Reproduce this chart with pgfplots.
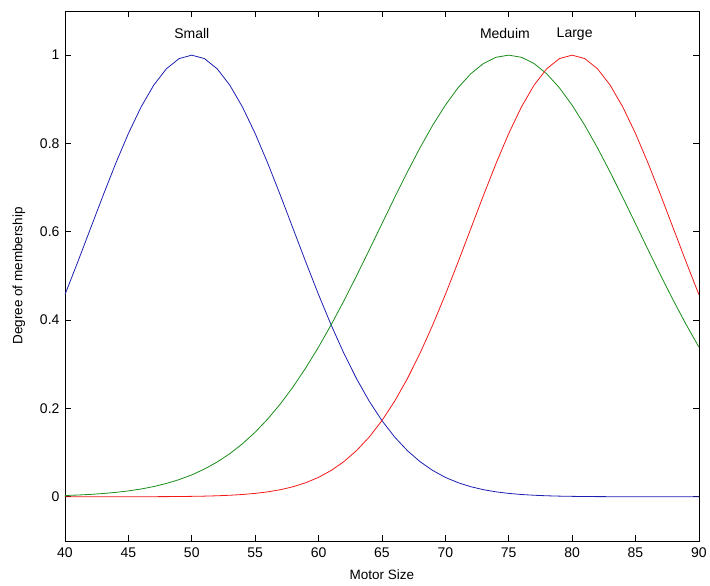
\documentclass[border=0pt]{standalone}
\usepackage{fontspec}
\setmainfont{Liberation Sans}
\usepackage{pgfplots}
\pgfplotsset{compat=1.18}
\definecolor{mblue}{rgb}{0.12,0.12,0.7}
\definecolor{mgreen}{rgb}{0.1,0.55,0.1}
\definecolor{mred}{rgb}{0.95,0.1,0.1}
\begin{document}
\begin{tikzpicture}
\begin{axis}[
  scale only axis,
  width=634pt, height=530pt,
  xmin=40, xmax=90, ymin=-0.1, ymax=1.1,
  xtick={40,45,...,90},
  ytick={0,0.2,0.4,0.6,0.8,1},
  yticklabels={0,0.2,0.4,0.6,0.8,1},
  xticklabels={40,45,50,55,60,65,70,75,80,85,90},
  tick align=inside,
  major tick length=6pt,
  axis line style={black, line width=0.7pt},
  every tick/.style={black, line width=0.7pt},
  tick label style={font=\fontsize{14}{16}\selectfont},
  label style={font=\fontsize{13.5}{16}\selectfont},
  xlabel={Motor Size},
  ylabel={Degree of membership},
  xlabel style={yshift=-5pt},
  ylabel style={yshift=8pt},
  xticklabel style={yshift=-3pt},
  yticklabel style={xshift=-2pt},
  clip=true,
]
\addplot[mblue, line width=0.8pt] coordinates {
(40,0.4578)(41,0.5311)(42,0.6065)(43,0.6819)(44,0.7548)(45,0.8226)(46,0.8825)(47,0.9321)(48,0.9692)(49,0.9922)
(50,1)(51,0.9922)(52,0.9692)(53,0.9321)(54,0.8825)(55,0.8226)(56,0.7548)(57,0.6819)(58,0.6065)(59,0.5311)
(60,0.4578)(61,0.3886)(62,0.3247)(63,0.2671)(64,0.2163)(65,0.1724)(66,0.1353)(67,0.1046)(68,0.0796)(69,0.0596)
(70,0.0439)(71,0.0319)(72,0.0228)(73,0.0160)(74,0.0111)(75,0.0076)(76,0.0051)(77,0.0034)(78,0.0022)(79,0.0014)
(80,0.0009)(81,0.0005)(82,0.0003)(83,0.0002)(84,0.0001)(85,0)(86,0)(87,0)(88,0)(89,0)(90,0)
};
\addplot[mgreen, line width=0.8pt] coordinates {
(40,0.0028)(41,0.0039)(42,0.0053)(43,0.0073)(44,0.0099)(45,0.0132)(46,0.0175)(47,0.0231)(48,0.0301)(49,0.0388)
(50,0.0495)(51,0.0627)(52,0.0786)(53,0.0976)(54,0.1200)(55,0.1461)(56,0.1763)(57,0.2106)(58,0.2493)(59,0.2921)
(60,0.3390)(61,0.3897)(62,0.4437)(63,0.5004)(64,0.5589)(65,0.6183)(66,0.6775)(67,0.7351)(68,0.7901)(69,0.8411)
(70,0.8867)(71,0.9260)(72,0.9577)(73,0.9810)(74,0.9952)(75,1)(76,0.9952)(77,0.9810)(78,0.9577)(79,0.9260)
(80,0.8867)(81,0.8411)(82,0.7901)(83,0.7351)(84,0.6775)(85,0.6183)(86,0.5589)(87,0.5004)(88,0.4437)(89,0.3897)
(90,0.3390)
};
\addplot[mred, line width=0.8pt] coordinates {
(40,0)(41,0)(42,0)(43,0)(44,0)(45,0.0001)(46,0.0001)(47,0.0002)(48,0.0003)(49,0.0005)
(50,0.0009)(51,0.0014)(52,0.0022)(53,0.0034)(54,0.0051)(55,0.0076)(56,0.0111)(57,0.0160)(58,0.0228)(59,0.0319)
(60,0.0439)(61,0.0596)(62,0.0796)(63,0.1046)(64,0.1353)(65,0.1724)(66,0.2163)(67,0.2671)(68,0.3247)(69,0.3886)
(70,0.4578)(71,0.5311)(72,0.6065)(73,0.6819)(74,0.7548)(75,0.8226)(76,0.8825)(77,0.9321)(78,0.9692)(79,0.9922)
(80,1)(81,0.9922)(82,0.9692)(83,0.9321)(84,0.8825)(85,0.8226)(86,0.7548)(87,0.6819)(88,0.6065)(89,0.5311)
(90,0.4578)
};
\node[font=\fontsize{14}{16}\selectfont] at (axis cs:50,1.048) {Small};
\node[font=\fontsize{14}{16}\selectfont] at (axis cs:74.7,1.048) {Meduim};
\node[font=\fontsize{14}{16}\selectfont] at (axis cs:80.2,1.048) {Large};
\end{axis}
\path (current axis.south west) ++(-65pt,-45pt) rectangle ++(710pt,586pt);
\end{tikzpicture}
\end{document}
